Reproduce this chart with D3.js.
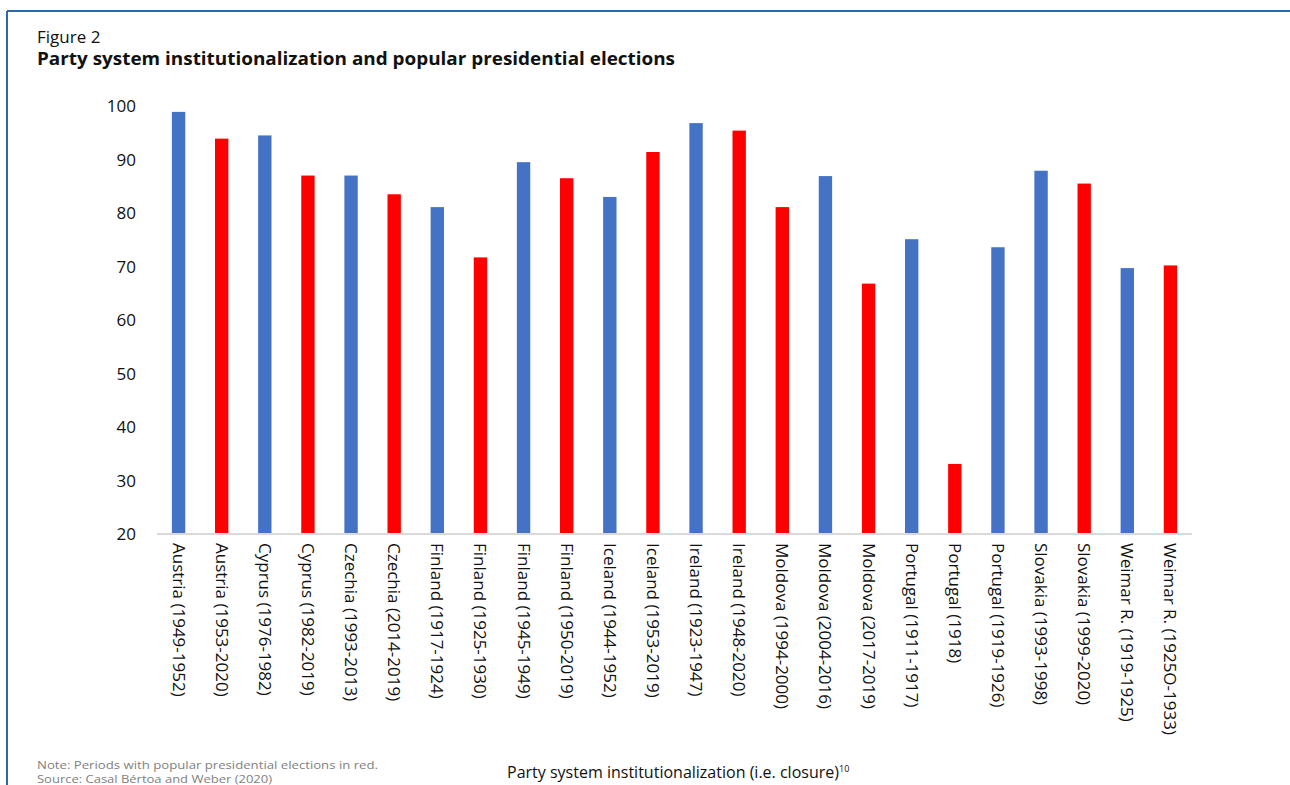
<!DOCTYPE html>
<html><head><meta charset="utf-8">
<script src="https://cdn.jsdelivr.net/npm/d3@7"></script>
<style>
html,body{margin:0;padding:0;background:#fff;}
svg{display:block;}
text{font-family:"Open Sans",sans-serif;}
</style></head>
<body>
<svg id="chart" width="1290" height="785"></svg>
<script>
const categories = ["Austria (1949-1952)","Austria (1953-2020)","Cyprus (1976-1982)","Cyprus (1982-2019)","Czechia (1993-2013)","Czechia (2014-2019)","Finland (1917-1924)","Finland (1925-1930)","Finland (1945-1949)","Finland (1950-2019)","Iceland (1944-1952)","Iceland (1953-2019)","Ireland (1923-1947)","Ireland (1948-2020)","Moldova (1994-2000)","Moldova (2004-2016)","Moldova (2017-2019)","Portugal (1911-1917)","Portugal (1918)","Portugal (1919-1926)","Slovakia (1993-1998)","Slovakia (1999-2020)","Weimar R. (1919-1925)","Weimar R. (1925O-1933)"];
const values = [98.9,93.9,94.5,87.0,87.0,83.5,81.1,71.7,89.5,86.5,83.0,91.4,96.8,95.4,81.1,86.9,66.8,75.1,33.1,73.6,87.9,85.5,69.7,70.2];
const popularElections = [false,true,false,true,false,true,false,true,false,true,false,true,false,true,true,false,true,false,true,false,false,true,false,true];
const yTicks = [20,30,40,50,60,70,80,90,100];

const svg = d3.select("#chart");

// frame
svg.append("line").attr("x1",7).attr("x2",1290).attr("y1",11).attr("y2",11).attr("stroke","#2b69a8").attr("stroke-width",2);
svg.append("line").attr("x1",7).attr("x2",7).attr("y1",11).attr("y2",785).attr("stroke","#2b69a8").attr("stroke-width",2);

// titles
svg.append("text").attr("x",37).attr("y",43).attr("font-size",17).attr("fill","#111").text("Figure 2");
svg.append("text").attr("x",37).attr("y",65).attr("font-size",18).attr("font-weight","bold").attr("fill","#111")
  .attr("textLength",638).attr("lengthAdjust","spacingAndGlyphs")
  .text("Party system institutionalization and popular presidential elections");

const x = d3.scaleBand().domain(categories).range([157,1192]).paddingInner(0.69).paddingOuter(0.345);
const y = d3.scaleLinear().domain([20,100]).range([534,106]);

// y axis labels
svg.append("g").selectAll("text").data(yTicks).join("text")
  .attr("x",136).attr("y",d=>y(d)).attr("dy","0.36em").attr("text-anchor","end")
  .attr("font-size",17).attr("fill","#111").text(d=>d);

// bars
svg.append("g").selectAll("rect").data(categories).join("rect")
  .attr("x",d=>x(d)).attr("width",x.bandwidth())
  .attr("y",(d,i)=>y(values[i])).attr("height",(d,i)=>y(20)-y(values[i]))
  .attr("fill",(d,i)=>popularElections[i] ? "#ff0000" : "#4472c4");

// x axis line
svg.append("line").attr("x1",157).attr("x2",1192).attr("y1",y(20)).attr("y2",y(20)).attr("stroke","#d9d9d9").attr("stroke-width",2);

// category labels
svg.append("g").selectAll("text").data(categories).join("text")
  .attr("transform",d=>`translate(${x(d)+x.bandwidth()/2},543) rotate(90)`)
  .attr("dy","0.35em").attr("font-size",17).attr("fill","#111").text(d=>d);

// axis title
const t = svg.append("text").attr("x",507).attr("y",778).attr("font-size",15.5).attr("fill","#111");
t.append("tspan").attr("textLength",332).attr("lengthAdjust","spacingAndGlyphs").text("Party system institutionalization (i.e. closure)");
t.append("tspan").attr("font-size",9).attr("dy",-6).text("10");

// notes
svg.append("text").attr("x",37).attr("y",769).attr("font-size",10).attr("fill","#808080")
  .attr("textLength",341).attr("lengthAdjust","spacingAndGlyphs")
  .text("Note: Periods with popular presidential elections in red.");
svg.append("text").attr("x",37).attr("y",783).attr("font-size",10).attr("fill","#808080")
  .attr("textLength",235).attr("lengthAdjust","spacingAndGlyphs")
  .text("Source: Casal Bértoa and Weber (2020)");
</script>
</body></html>
